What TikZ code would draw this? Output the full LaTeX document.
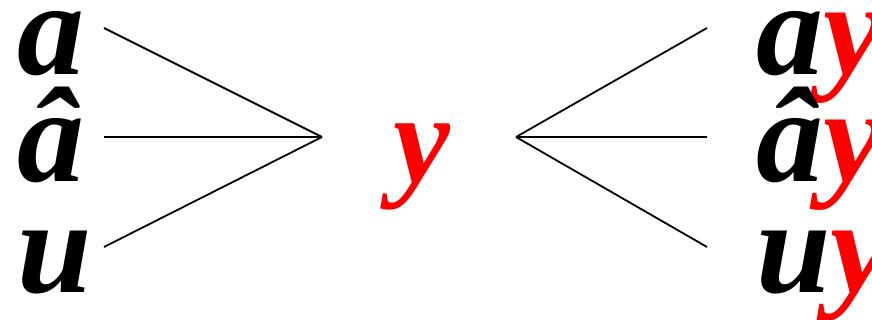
\documentclass[tikz,border=0pt]{standalone}
\usepackage{fontspec}
\setmainfont{Liberation Serif}
\begin{document}
\begin{tikzpicture}[x=1pt,y=-1pt,
  lab/.style={anchor=base west,inner sep=0pt,font=\fontsize{134}{134}\selectfont\bfseries\itshape},
  conn/.style={line width=1.8pt}]
\useasboundingbox (0,0) rectangle (872,320);
\node[lab] (la) at (17,75) {a};
\node[lab] (lah) at (17,182) {â};
\node[lab] (lu) at (17,292) {u};
\node[lab,text=red,font=\fontsize{128}{128}\selectfont\bfseries\itshape] (cy) at (393,183) {y};
\node[lab] (ra) at (756,75) {a\textcolor{red}{y}};
\node[lab] (rah) at (756,182) {â\textcolor{red}{y}};
\node[lab] (ru) at (756,292) {u\textcolor{red}{y}};
\coordinate (apexL) at (322,137);
\coordinate (apexR) at (516,137);
\coordinate (l1) at (104,28);
\coordinate (l2) at (104,137);
\coordinate (l3) at (104,247);
\coordinate (r1) at (707,28);
\coordinate (r2) at (707,137);
\coordinate (r3) at (707,247);
\draw[conn] (l1) -- (apexL);
\draw[conn] (l2) -- (apexL);
\draw[conn] (l3) -- (apexL);
\draw[conn] (apexR) -- (r1);
\draw[conn] (apexR) -- (r2);
\draw[conn] (apexR) -- (r3);
\end{tikzpicture}
\end{document}
